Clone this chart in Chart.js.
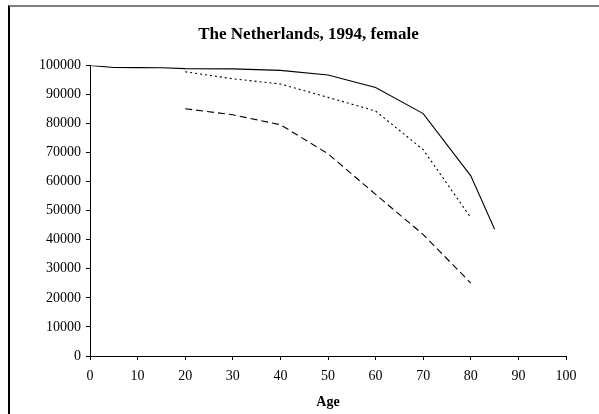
<!DOCTYPE html>
<html><head><meta charset="utf-8">
<script src="https://cdn.jsdelivr.net/npm/chart.js@4"></script>
<style>
html,body{margin:0;padding:0;background:#fff;overflow:hidden}
#wrap{position:absolute;left:0;top:0;width:599px;height:414px}
#frame{position:absolute;left:8px;top:5px;width:700px;height:500px;border-top:2px solid #808080;border-left:2px solid #000;box-sizing:border-box}
canvas{position:absolute;left:0;top:0}
</style></head>
<body>
<div id="wrap"><div id="frame"></div><canvas id="c" width="599" height="414"></canvas></div>
<script>
const titleText = "The Netherlands, 1994, female";
const xTitle = "Age";
const ageSolid = [0, 5, 10, 15, 20, 30, 40, 50, 60, 70, 80, 85];
const solid = [100000, 99300, 99250, 99200, 98900, 98800, 98300, 96700, 92400, 83400, 62000, 43600];
const ageDotted = [20, 30, 40, 50, 60, 70, 80];
const dotted = [97800, 95400, 93600, 89000, 84300, 71000, 47600];
const ageDashed = [20, 30, 40, 50, 60, 70, 80];
const dashed = [85100, 83000, 79600, 69600, 55600, 41800, 25100];

const pts = (xs, ys) => xs.map((x, i) => ({x, y: ys[i]}));
const font = {family: "'Liberation Serif', 'DejaVu Serif', serif", size: 14};

// draws the title slightly right of the canvas centre, as in the reference
const titleDraw = {
  id: 'titleDraw',
  afterDraw(chart) {
    const t = chart.titleBlock;
    const ctx = chart.ctx;
    ctx.save();
    ctx.font = "bold 17px 'Liberation Serif', 'DejaVu Serif', serif";
    ctx.fillStyle = '#000';
    ctx.textAlign = 'center';
    ctx.textBaseline = 'middle';
    ctx.fillText(titleText, chart.width / 2 + 9, t.top + t.height / 2 - 9);
    ctx.restore();
  }
};

new Chart(document.getElementById('c'), {
  type: 'line',
  data: {datasets: [
    {data: pts(ageSolid, solid), borderColor: '#000', borderWidth: 1.1, pointRadius: 0, fill: false, tension: 0},
    {data: pts(ageDotted, dotted), borderColor: '#000', borderWidth: 1.1, borderDash: [2, 3], pointRadius: 0, fill: false, tension: 0},
    {data: pts(ageDashed, dashed), borderColor: '#000', borderWidth: 1.1, borderDash: [7, 4], pointRadius: 0, fill: false, tension: 0}
  ]},
  options: {
    responsive: false, animation: false, devicePixelRatio: 1,
    layout: {padding: {left: 20, right: 33, top: 21, bottom: 3}},
    plugins: {
      legend: {display: false}, tooltip: {enabled: false},
      title: {display: true, text: titleText, color: 'rgba(0,0,0,0)', font: {...font, size: 17, weight: 'bold'}, padding: {top: 4, bottom: 20}}
    },
    scales: {
      x: {
        type: 'linear', min: 0, max: 100,
        ticks: {stepSize: 10, color: '#000', font, padding: 8, maxRotation: 0, callback: v => String(v)},
        grid: {display: true, drawOnChartArea: false, drawTicks: true, tickLength: 4, color: '#000'},
        border: {color: '#000', width: 1},
        title: {display: true, text: xTitle, color: '#000', font: {...font, size: 14, weight: 'bold'}, padding: {top: 6, bottom: 0}},
        afterFit: s => { s.height = 55; }
      },
      y: {
        min: 0, max: 100000,
        ticks: {stepSize: 10000, color: '#000', font, padding: 5, callback: v => String(v)},
        grid: {display: true, drawOnChartArea: false, drawTicks: true, tickLength: 4, color: '#000'},
        border: {color: '#000', width: 1},
        afterFit: s => { s.width = 70; }
      }
    }
  },
  plugins: [titleDraw]
});
</script>
</body></html>
